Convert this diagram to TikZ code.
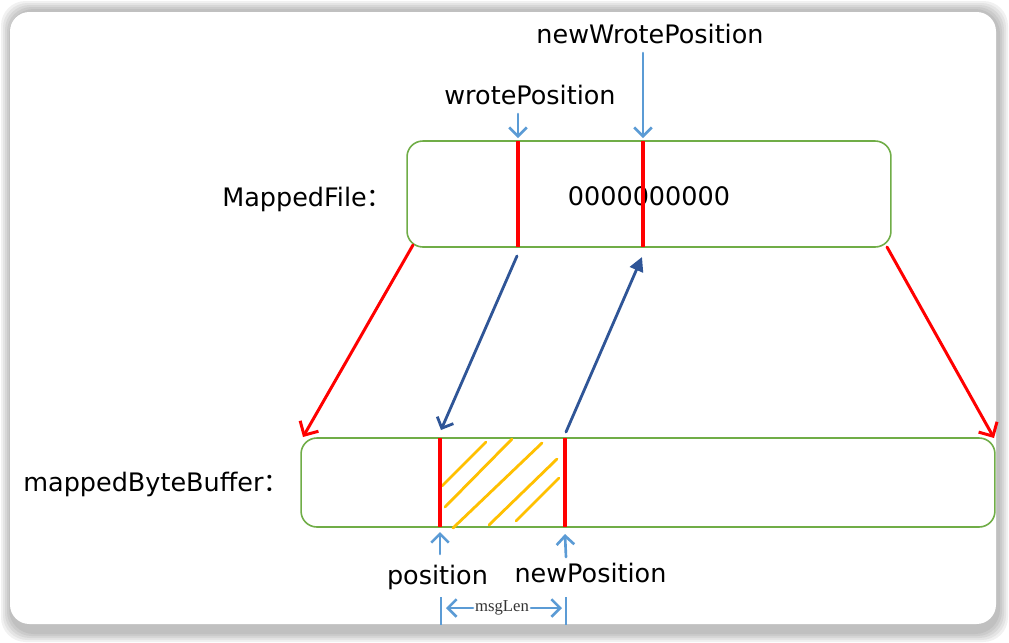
\documentclass[tikz,border=0pt]{standalone}
\usepackage{fontspec}
\setmainfont{DejaVu Sans}
\newfontfamily\cjk{Noto Sans CJK SC}
\newfontfamily\lenfont{Liberation Serif}
\usepackage{xcolor}
\usetikzlibrary{arrows.meta}
\definecolor{boxgreen}{HTML}{70AD47}
\definecolor{ptrblue}{HTML}{5B9BD5}
\definecolor{navy}{HTML}{2F5597}
\definecolor{hatchorange}{HTML}{FFC000}
\tikzset{
  every picture/.style={line join=round, line cap=round},
  bufbox/.style={draw=boxgreen, line width=0.9pt, rounded corners=9pt, inner sep=0pt},
  ptrline/.style={draw=red, line width=2pt, line cap=butt},
  maparrow/.style={draw=red, line width=1.7pt, -{Straight Barb[length=6pt,width=12pt]}},
  copyarrow/.style={draw=navy, line width=1.6pt, -{Straight Barb[length=5pt,width=10pt]}},
  fillarrow/.style={draw=navy, line width=1.6pt, -{Triangle[length=8pt,width=8pt]}},
  ptrarrow/.style={draw=ptrblue, line width=1.5pt, -{Straight Barb[length=5pt,width=10pt]}},
  hatch/.style={draw=hatchorange, line width=1.6pt},
  lbl/.style={font=\fontsize{14.5}{17}\selectfont, inner sep=0pt, anchor=base},
}
\begin{document}
\begin{tikzpicture}[x=0.02cm, y=-0.02cm]
\useasboundingbox (0,0) rectangle (1009,643);
% screenshot frame with soft shadow
\foreach \d in {0,2,4,6,8}
  \fill[black, opacity=0.055, rounded corners=14pt] (1+\d,1+\d) rectangle (1008-\d,642-\d);
\fill[white, rounded corners=11pt] (10,12) rectangle (996,624);

% the two buffers
\node[bufbox, minimum width=9.68cm, minimum height=2.12cm] (mf) at (649,194) {};
\node[lbl] (zeros) at (649,205) {0000000000};
\node[lbl, anchor=base west] (mflbl) at (222,206) {MappedFile{\cjk ：}};
\node[bufbox, minimum width=13.88cm, minimum height=1.78cm] (mbb) at (648,482.5) {};
\node[lbl, anchor=base west] (mbblbl) at (23,491) {mappedByteBuffer{\cjk ：}};

% pointers in MappedFile
\coordinate (wp top) at (518,141);
\coordinate (wp bot) at (518,247);
\coordinate (nwp top) at (643,141);
\coordinate (nwp bot) at (643,247);
\draw[ptrline] (wp top) -- (wp bot);
\draw[ptrline] (nwp top) -- (nwp bot);

% pointers in mappedByteBuffer
\coordinate (pos top) at (440,438);
\coordinate (pos bot) at (440,527);
\coordinate (npos top) at (565,438);
\coordinate (npos bot) at (565,527);
\draw[hatch] (442,486) -- (486,442);
\draw[hatch] (445,507) -- (512,439);
\draw[hatch] (453,528) -- (542,443);
\draw[hatch] (489,525) -- (557,459);
\draw[hatch] (516,521) -- (559,478);
\draw[ptrline] (pos top) -- (pos bot);
\draw[ptrline] (npos top) -- (npos bot);

% labels above
\node[lbl] (wplbl) at (530,104) {wrotePosition};
\node[lbl] (nwplbl) at (650,43) {newWrotePosition};
\coordinate (wp tail) at (518,114);
\coordinate (nwp tail) at (643,53);
\draw[ptrarrow] (wp tail) -- ([yshift=0.06cm]wp top);
\draw[ptrarrow] (nwp tail) -- ([yshift=0.06cm]nwp top);

% mapping arrows
\coordinate (mf sw) at (413,245);
\coordinate (mf se) at (887,247);
\coordinate (mbb nw) at (303,437);
\coordinate (mbb ne) at (994,438);
\draw[maparrow] (mf sw) -- (mbb nw);
\draw[maparrow] (mf se) -- (mbb ne);

% copy arrows
\coordinate (cp a) at (517,256);
\coordinate (cp b) at (441,430);
\coordinate (cp c) at (566,432);
\coordinate (cp d) at (642,257);
\draw[copyarrow] (cp a) -- (cp b);
\draw[fillarrow] (cp c) -- (cp d);

% labels below
\node[lbl] (poslbl) at (437.5,584) {position};
\node[lbl] (nposlbl) at (590.5,582) {newPosition};
\coordinate (pos tail) at (440,554);
\coordinate (npos tail) at (566,557);
\draw[ptrarrow] (pos tail) -- ([yshift=-0.1cm]pos bot);
\draw[ptrarrow] (npos tail) -- ([yshift=-0.14cm]npos bot);

% msgLen
\coordinate (len l top) at (441,597);
\coordinate (len l bot) at (441,625);
\coordinate (len r top) at (566,597);
\coordinate (len r bot) at (566,625);
\draw[ptrblue, line width=1.5pt, line cap=butt] (len l top) -- (len l bot);
\draw[ptrblue, line width=1.5pt, line cap=butt] (len r top) -- (len r bot);
\node[font=\lenfont\fontsize{9.5}{10}\selectfont, inner sep=1pt, text=black!80] (len) at (502,608) {msgLen};
\draw[ptrarrow] (len.west) -- (446,608);
\draw[ptrarrow] (len.east) -- (562,608);
\end{tikzpicture}
\end{document}
